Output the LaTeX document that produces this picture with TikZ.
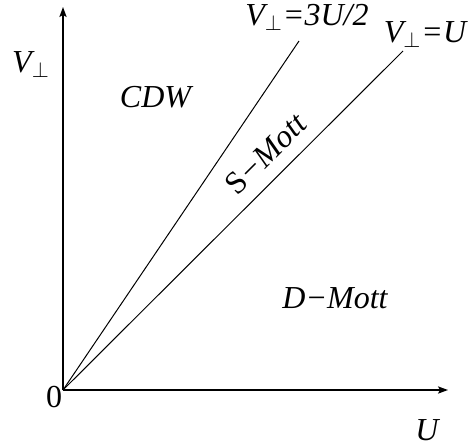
\documentclass[tikz,border=0pt]{standalone}
\usepackage{fontspec}
\setmainfont{Liberation Serif}
\usepackage{tikz}
\usetikzlibrary{arrows.meta}
\tikzset{
  axis/.style     = {-{Stealth[length=5pt,width=3.6pt,inset=1pt]}, draw=black, line width=0.7pt},
  border/.style   = {draw=black, line width=0.5pt},
  lab/.style      = {font=\fontsize{16}{19}\selectfont\itshape, inner sep=0pt, outer sep=0pt, anchor=base},
  labup/.style    = {font=\fontsize{16}{19}\selectfont, inner sep=0pt, outer sep=0pt, anchor=base},
}

\begin{document}
\begin{tikzpicture}[x=0.5pt,y=0.5pt]
\path[use as bounding box] (-63,-57) rectangle (407,390);

% ---- axes ---------------------------------------------------------------
\coordinate (orig) at (0,0);
\coordinate (vtop) at (0,383);
\coordinate (uend) at (385,0);
\draw[axis] (orig) -- (vtop);
\draw[axis] (orig) -- (uend);
\node[labup] (zero) at (-9,-17) {0};
\node[lab]   (ulab) at (364,-50) {U};
\node[lab]   (vlab) at (-32,318) {V$_{\perp}$};

% ---- the two borders ----------------------------------------------------
\coordinate (stripend) at (236,349);
\coordinate (mottend)  at (340,339);
\draw[border] (orig) -- (stripend);
\draw[border] (orig) -- (mottend);
\node[lab] (stripeq) at (244,365) {V$_{\perp}$=3U/2};
\node[lab] (motteq)  at (362,348) {V$_{\perp}$=U};

% ---- the phases ---------------------------------------------------------
\node[lab] (cdw)   at (92.5,283) {CDW};
\node[labup, anchor=center, rotate=45] (smott) at (203,236) {S\textit{−Mott}};
\node[lab] (dmott) at (272,82) {D−Mott};

\end{tikzpicture}
\end{document}
